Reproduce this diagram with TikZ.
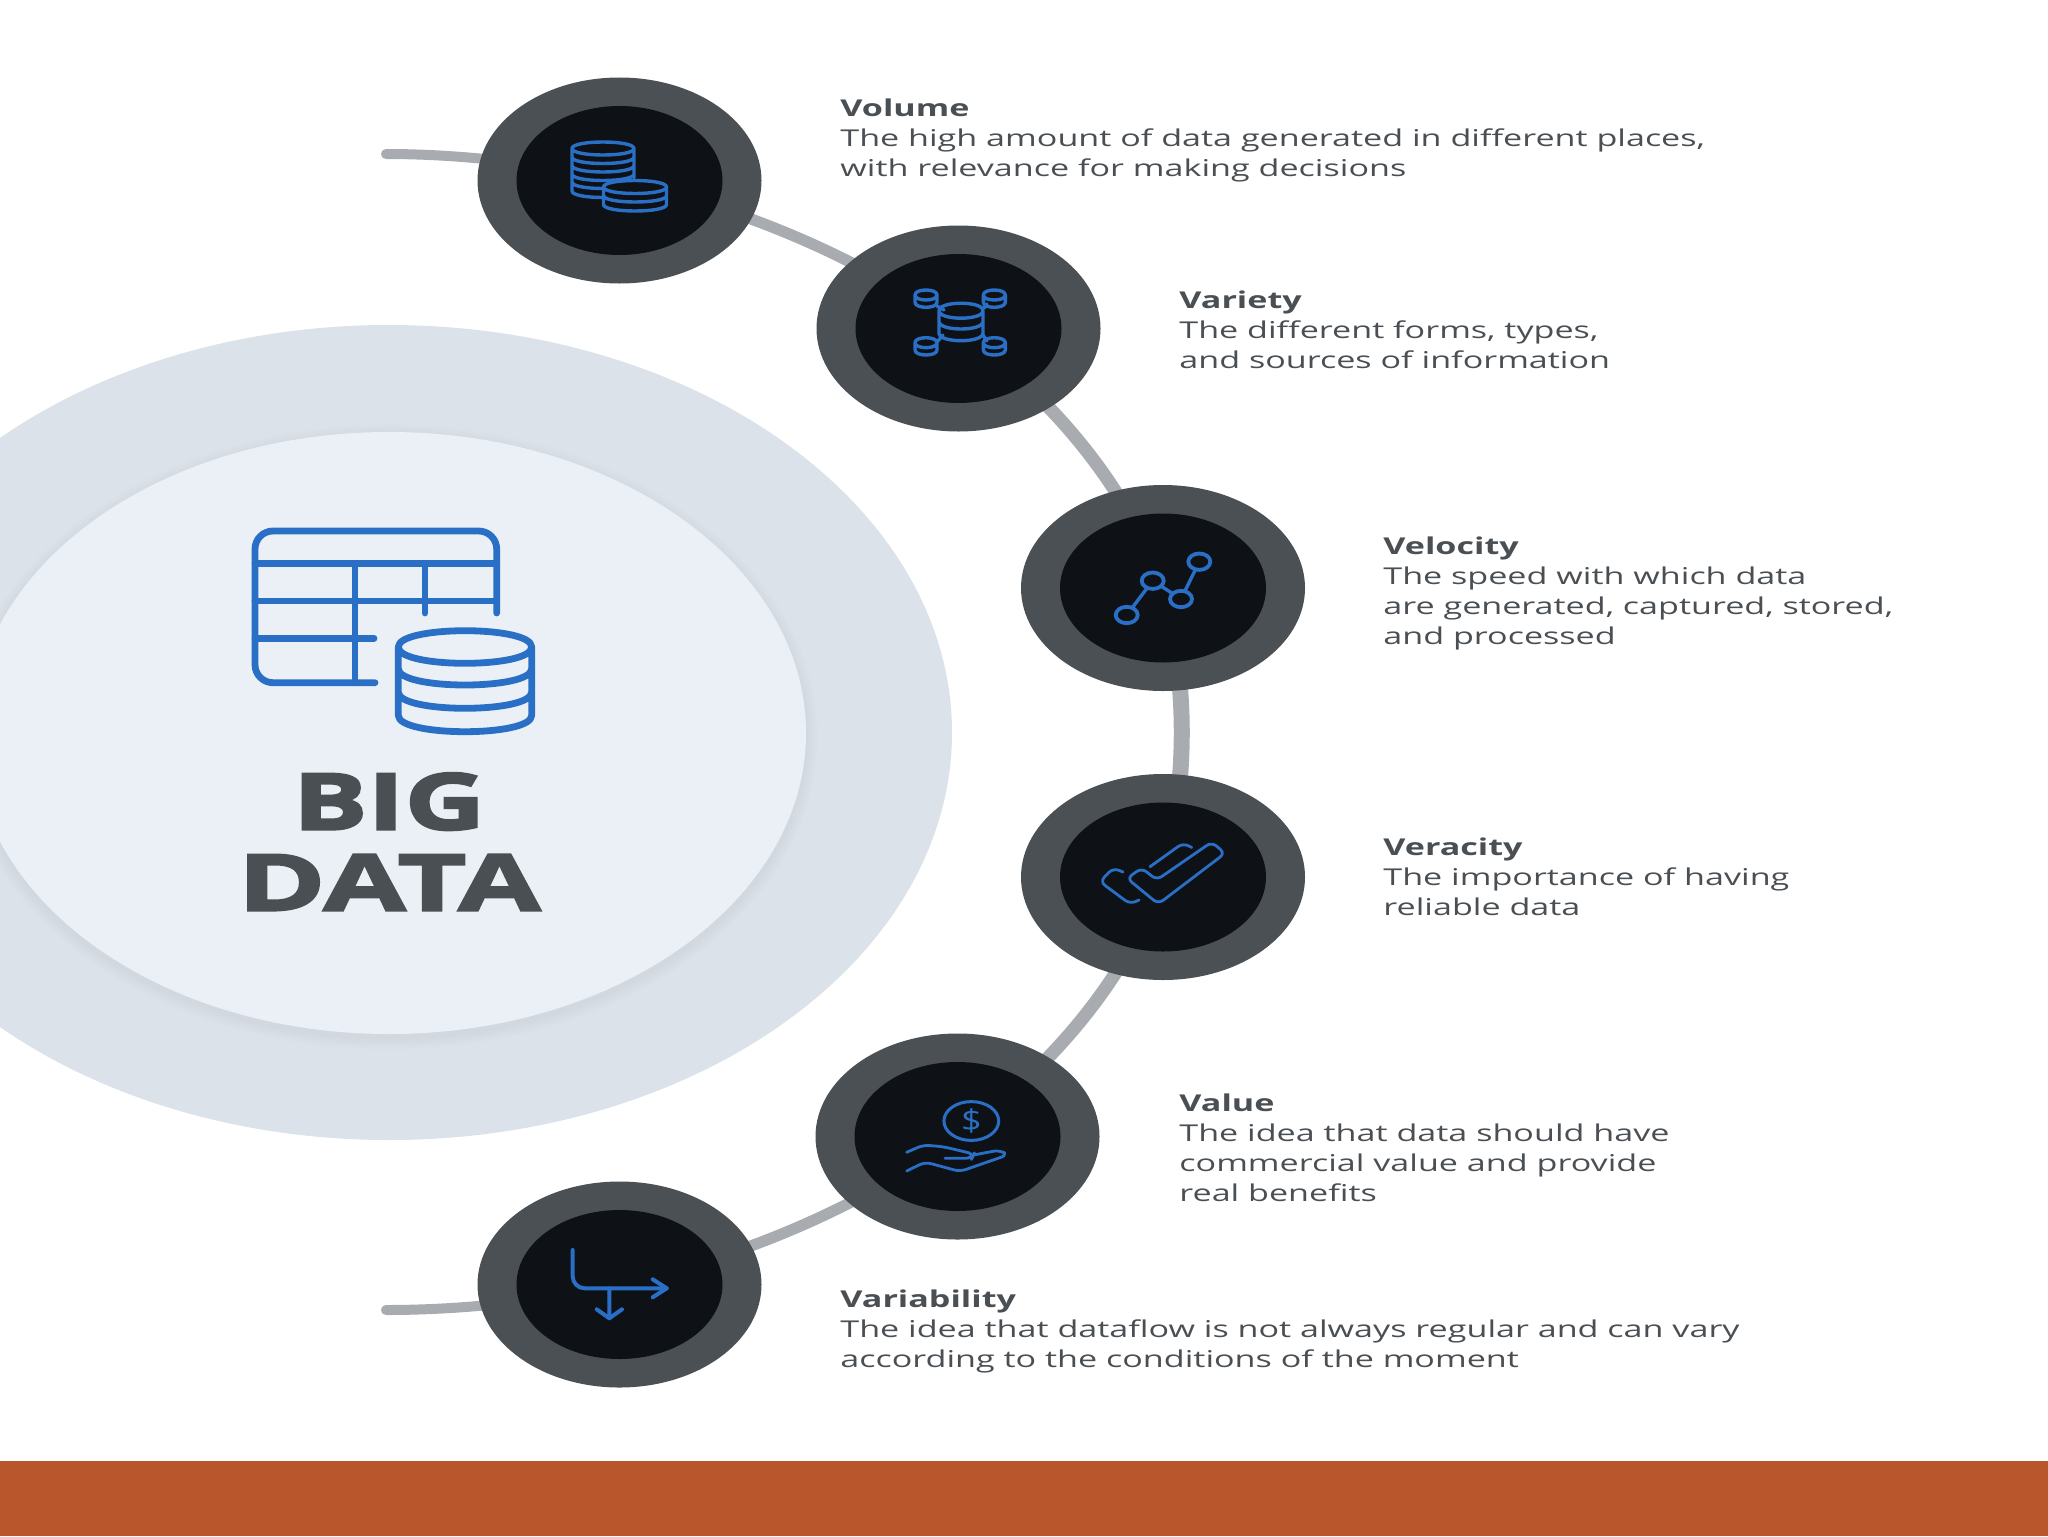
\documentclass[tikz,border=0pt]{standalone}
\usepackage{fontspec}
\setmainfont{Open Sans}
\newfontfamily\bodyfont[FakeStretch=1.47]{Open Sans}
\newfontfamily\dollarfont[FakeStretch=1.2]{Open Sans}
\newfontfamily\bigdatafont[FakeStretch=1.43,Kerning=Off,BoldFeatures={FakeBold=3}]{Open Sans}
\newfontfamily\bigdatawide[FakeStretch=1.53,Kerning=Off,BoldFeatures={FakeBold=3}]{Open Sans}
\usetikzlibrary{shapes.geometric,backgrounds,calc}
\definecolor{bandc}{HTML}{B9562B}
\definecolor{outerc}{HTML}{DBE2E9}
\definecolor{innerc}{HTML}{EBF0F7}
\definecolor{ringc}{HTML}{4B5055}
\definecolor{corec}{HTML}{0E1216}
\definecolor{arcc}{HTML}{A8ACB0}
\definecolor{iconc}{HTML}{2A6FC6}
\definecolor{textc}{HTML}{4A4F54}
\tikzset{
  ring/.style={ellipse,draw=none,fill=ringc,inner sep=0pt,minimum width=142pt,minimum height=103pt},
  core/.style={ellipse,draw=none,fill=corec,inner sep=0pt,minimum width=103pt,minimum height=74.5pt},
  link/.style={arcc,line cap=round},
  icon/.style={iconc,line width=1.7pt,line cap=round,line join=round},
  bigicon/.style={iconc,line width=3.4pt,line cap=round,line join=round},
  label/.style={anchor=north west,inner sep=0pt,align=left,text=textc,font=\bodyfont\fontsize{11.6}{15}\selectfont},
}
\newcommand{\lowarc}[4]{(#1-#3,#2) .. controls (#1-#3,#2+1.333*#4) and (#1+#3,#2+1.333*#4) .. (#1+#3,#2)}
\newcommand{\toparc}[4]{(#1-#3,#2) .. controls (#1-#3,#2-1.333*#4) and (#1+#3,#2-1.333*#4) .. (#1+#3,#2)}
\newcommand{\titlerule}{\rule{0pt}{10pt}}
\begin{document}
\begin{tikzpicture}[x=0.5pt,y=-0.5pt]
\useasboundingbox (0,0) rectangle (2048,1536);
\fill[bandc] (0,1461) rectangle (2048,1536);
\begin{scope}
\clip (0,0) rectangle (2048,1536);
\node[ellipse,fill=outerc,inner sep=0pt,minimum width=563pt,minimum height=407.5pt] (outerdisc) at (389,732.5) {};
\foreach \i in {1,...,10}{
  \fill[black,opacity=0.005] (389,737) ellipse[x radius=208.5pt+\i*0.6pt,y radius=150.5pt+\i*0.6pt];
}
\node[ellipse,fill=innerc,inner sep=0pt,minimum width=417pt,minimum height=301pt] (innerdisc) at (389,733) {};
\end{scope}

% rings
\node[ring] (vol) at (619.5,180.5) {};   \node[core] (volc) at (vol) {};
\node[ring] (var) at (958.5,328.5) {};   \node[core] (varc) at (var) {};
\node[ring] (vel) at (1163,588) {};      \node[core] (velc) at (vel) {};
\node[ring] (ver) at (1163,877) {};      \node[core] (verc) at (ver) {};
\node[ring] (val) at (957.5,1136.5) {};  \node[core] (valc) at (val) {};
\node[ring] (vab) at (619.5,1284.5) {};  \node[core] (vabc) at (vab) {};
\coordinate (topend) at (386,154);
\coordinate (botend) at (386,1310);

\begin{scope}[on background layer]
\draw[link,line width=5pt] (topend) .. controls ($(topend)+(78,0)$) and ($(vol)+(-74.8,-16.5)$) .. (vol.center);
\draw[link,line width=5.6pt] (vol.center) .. controls ($(vol)+(126.5,28)$) and ($(var)+(-92.8,-68.6)$) .. (var.center);
\draw[link,line width=6.6pt] (var.center) .. controls ($(var)+(98.4,72.8)$) and ($(vel)+(-34.8,-99)$) .. (vel.center);
\draw[link,line width=8pt] (vel.center) .. controls ($(vel)+(25,94.4)$) and ($(ver)+(25,-94.4)$) .. (ver.center);
\draw[link,line width=6.6pt] (ver.center) .. controls ($(ver)+(-34.8,99)$) and ($(val)+(98.4,-72.8)$) .. (val.center);
\draw[link,line width=5.6pt] (val.center) .. controls ($(val)+(-92.8,68.6)$) and ($(vab)+(126.5,-28)$) .. (vab.center);
\draw[link,line width=5pt] (vab.center) .. controls ($(vab)+(-74.8,16.5)$) and ($(botend)+(78,0)$) .. (botend);
\end{scope}

% --- big icon
\draw[bigicon,rounded corners=9pt] (496.7,613) -- (496.7,531) -- (255,531) -- (255,682.7) -- (375,682.7);
\draw[bigicon] (255,563.3) -- (496.7,563.3) (255,601) -- (496.7,601) (255,638.3) -- (374,638.3)
  (355,563.3) -- (355,682.7) (425,563.3) -- (425,613);
\draw[bigicon] \toparc{465}{647}{66.7}{16.3} \lowarc{465}{647}{66.7}{16.3}
  \lowarc{465}{668.7}{66.7}{16.3} \lowarc{465}{692}{66.7}{16.3} \lowarc{465}{715.4}{66.7}{16.3}
  (398.3,647) -- (398.3,715.4) (531.7,647) -- (531.7,715.4);

% --- volume icon
\draw[icon] \toparc{603}{148.5}{31}{6.5} \lowarc{603}{148.5}{31}{6.5}
  \lowarc{603}{157}{31}{6.5} \lowarc{603}{165.5}{31}{6.5} \lowarc{603}{174}{31}{6.5} \lowarc{603}{182}{31}{6.5} \lowarc{603}{191}{31}{6.5}
  (572,148.5) -- (572,191) (634,148.5) -- (634,178);
\path[fill=corec] (603,187) .. controls (603,178) and (667,178) .. (667,187) -- (667,205) .. controls (667,214) and (603,214) .. (603,205) -- cycle;
\draw[icon] \toparc{635}{187}{31.5}{6.5} \lowarc{635}{187}{31.5}{6.5}
  \lowarc{635}{195.5}{31.5}{6.5} \lowarc{635}{204.5}{31.5}{6.5}
  (603.5,187) -- (603.5,204.5) (666.5,187) -- (666.5,204.5);

% --- variety icon
\draw[icon] (937,306) -- (944,310) (984,308) -- (987,304) (937,342) -- (943,335) (983,335) -- (987,341);
\draw[icon] \toparc{961}{310.7}{22}{7.5} \lowarc{961}{310.7}{22}{7.5}
  \lowarc{961}{321.5}{22}{7.5} \lowarc{961}{333.2}{22}{7.5}
  (939,310.7) -- (939,333.2) (983,310.7) -- (983,333.2);
\foreach \cx/\cy in {926/295,994.3/295,926/342.7,994.3/342.7}{
  \draw[icon] \toparc{\cx}{\cy}{11}{5} \lowarc{\cx}{\cy}{11}{5} \lowarc{\cx}{\cy+7.3}{11}{5}
    (\cx-11,\cy) -- (\cx-11,\cy+7.3) (\cx+11,\cy) -- (\cx+11,\cy+7.3);
}

% --- velocity icon
\draw[icon] (1126.7,615) -- (1152.7,580.7) -- (1181,599) -- (1199.3,561.7);
\foreach \cx/\cy in {1126.7/615,1152.7/580.7,1181/599,1199.3/561.7}{
  \path[icon,fill=corec,draw=iconc,line width=1.9pt] (\cx,\cy) ellipse[x radius=5.5pt,y radius=4.1pt];
}

% --- veracity icon
\draw[icon,line width=1.4pt,rounded corners=3pt] (1156.7,880) -- (1141.7,868) -- (1127,878.3) -- (1158.3,904) -- (1225,853.3) -- (1211.7,842) -- cycle;
\draw[icon,line width=1.4pt,rounded corners=3pt] (1123,872) -- (1113,868) -- (1100,881.7) -- (1130,904) -- (1139,900);
\draw[icon,line width=1.4pt,rounded corners=3pt] (1150,866.7) -- (1183,843) -- (1191.7,847.5);

% --- value icon
\path[icon,draw=iconc,line width=1.5pt] (971.3,1121) ellipse[x radius=13.7pt,y radius=9.7pt];
\node[inner sep=0pt,text=iconc,font=\dollarfont\fontsize{15}{16}\selectfont] (dollar) at (971.3,1121) {\$};
\draw[icon,line width=1.4pt,rounded corners=3pt] (906.7,1152.3) -- (923.3,1145) -- (943.3,1146.7) -- (974,1154) -- (972,1158.3) -- (945,1158.3);
\draw[icon,line width=1.4pt,rounded corners=3pt] (973.3,1155) -- (1000,1150) -- (1007.5,1155) -- (960,1171.5) -- (925,1162) -- (906.7,1171);

% --- variability icon
\draw[icon,line width=2pt,rounded corners=6pt] (572.7,1250) -- (572.7,1288.3) -- (666.7,1288.3);
\draw[icon,line width=2pt] (652.7,1279.3) -- (666.7,1288.3) -- (652.7,1297.3);
\draw[icon,line width=2pt] (609.3,1288.3) -- (609.3,1318.3) (596.7,1309.3) -- (609.3,1318.3) -- (622,1309.3);

% --- centre title
\node[anchor=north,inner sep=0pt,align=center,text=textc,font=\bigdatafont\bfseries\fontsize{39}{40.5}\selectfont] (title) at (389,769) {\rule{0pt}{30pt}BIG\\{\bigdatawide\bfseries DATA}};

% --- labels
\node[label] (tvol) at (840,96) {\titlerule\textbf{Volume}\\The high amount of data generated in different places,\\with relevance for making decisions};
\node[label] (tvar) at (1179,288) {\titlerule\textbf{Variety}\\The different forms, types,\\and sources of information};
\node[label] (tvel) at (1383,533.6) {\titlerule\textbf{Velocity}\\The speed with which data\\are generated, captured, stored,\\and processed};
\node[label] (tver) at (1383,835) {\titlerule\textbf{Veracity}\\The importance of having\\reliable data};
\node[label] (tval) at (1179,1091) {\titlerule\textbf{Value}\\The idea that data should have\\commercial value and provide\\real benefits};
\node[label] (tvab) at (840,1287) {\titlerule\textbf{Variability}\\The idea that dataflow is not always regular and can vary\\according to the conditions of the moment};
\end{tikzpicture}
\end{document}
